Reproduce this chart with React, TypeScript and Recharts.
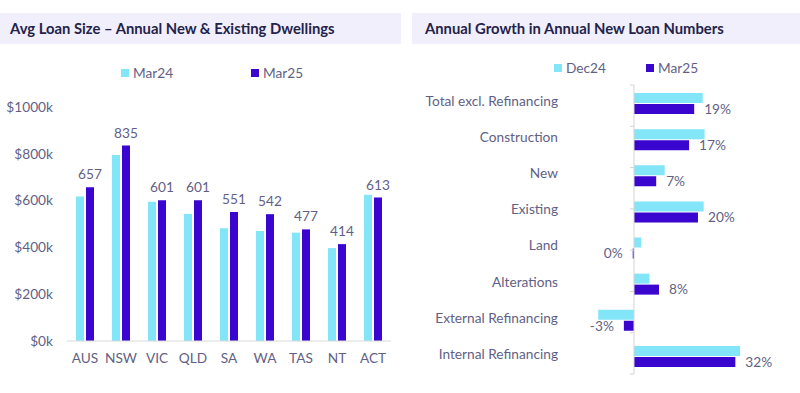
import {
  BarChart,
  Bar,
  XAxis,
  YAxis,
  LabelList,
  ReferenceLine,
} from 'recharts';

// left panel: average loan size ($k)
const states = ['AUS', 'NSW', 'VIC', 'QLD', 'SA', 'WA', 'TAS', 'NT', 'ACT'];
const mar24Size = [617, 795, 595, 543, 482, 470, 463, 397, 625];
const mar25Size = [657, 835, 601, 601, 551, 542, 477, 414, 613];
const sizeTicks = [0, 200, 400, 600, 800, 1000];

// right panel: annual growth in new loan numbers (%)
const loanTypes = [
  'Total excl. Refinancing',
  'Construction',
  'New',
  'Existing',
  'Land',
  'Alterations',
  'External Refinancing',
  'Internal Refinancing',
];
const dec24Growth = [21.7, 22.3, 9.7, 22, 2.3, 4.9, -11.3, 33.5];
const mar25Growth = [19, 17.4, 7, 20.2, -0.4, 7.9, -3.2, 32];
const growthBoundaries = [0, 1, 2, 3, 4, 5, 6, 7, 8];

const sizeData = states.map((s, i) => ({ state: s, mar24: mar24Size[i], mar25: mar25Size[i] }));
const growthData = loanTypes.map((t, i) => ({ type: t, dec24: dec24Growth[i], mar25: mar25Growth[i] }));

const LIGHT = '#82e5f8';
const DARK = '#3a05cf';
const TEXT = '#625f85';
const TITLE = '#24234a';
const BAND = '#f1effb';
const FONT = 'Lato, "Open Sans", sans-serif';
const FS = 13.7;

function Header({ left, width, title, textLeft }: { left: number; width: number; title: string; textLeft: number }) {
  return (
    <div
      style={{
        position: 'absolute',
        left,
        top: 13,
        width,
        height: 31,
        background: BAND,
      }}
    >
      <div
        style={{
          position: 'absolute',
          left: textLeft,
          top: 6,
          fontSize: 14.8,
          fontWeight: 700,
          color: TITLE,
          whiteSpace: 'nowrap',
        }}
      >
        {title}
      </div>
    </div>
  );
}

function LegendItem({ x, y, color, label }: { x: number; y: number; color: string; label: string }) {
  return (
    <div style={{ position: 'absolute', left: x, top: y, display: 'flex', alignItems: 'center', color: TEXT, fontSize: FS }}>
      <span style={{ width: 8, height: 8, background: color, marginRight: 4, display: 'inline-block' }} />
      {label}
    </div>
  );
}

const pct = (v: number) => `${Math.round(v)}%`;

export default function App() {
  return (
    <div
      style={{
        position: 'absolute',
        left: 0,
        top: 0,
        width: 800,
        height: 393,
        background: '#fff',
        fontFamily: FONT,
        overflow: 'hidden',
      }}
    >
      <Header left={0} width={401} title="Avg Loan Size – Annual New & Existing Dwellings" textLeft={10} />
      <Header left={412} width={388} title="Annual Growth in Annual New Loan Numbers" textLeft={13} />

      <LegendItem x={121} y={64} color={LIGHT} label="Mar24" />
      <LegendItem x={251} y={64} color={DARK} label="Mar25" />
      <LegendItem x={554} y={59} color={LIGHT} label="Dec24" />
      <LegendItem x={646} y={59} color={DARK} label="Mar25" />

      <div style={{ position: 'absolute', left: 0, top: 0 }}>
        <BarChart
          width={400}
          height={393}
          data={sizeData}
          margin={{ top: 107, right: 9, bottom: 22, left: 0 }}
          barSize={8}
          barGap={2}
        >
          <XAxis
            dataKey="state"
            axisLine={{ stroke: '#d9d9d9' }}
            tickLine={false}
            tickSize={0}
            tickMargin={12}
            tick={{ fill: TEXT, fontSize: FS }}
            interval={0}
          />
          <YAxis
            width={67}
            domain={[0, 1000]}
            ticks={sizeTicks}
            axisLine={false}
            tickLine={false}
            tickSize={0}
            tickMargin={14}
            tick={{ fill: TEXT, fontSize: FS }}
            tickFormatter={(v) => `$${v}k`}
          />
          <Bar dataKey="mar24" name="Mar24" fill={LIGHT} isAnimationActive={false} />
          <Bar dataKey="mar25" name="Mar25" fill={DARK} isAnimationActive={false}>
            <LabelList dataKey="mar25" position="top" offset={8} fill={TEXT} fontSize={FS} />
          </Bar>
        </BarChart>
      </div>

      <div style={{ position: 'absolute', left: 400, top: 0 }}>
        <BarChart
          width={400}
          height={393}
          data={growthData}
          layout="vertical"
          margin={{ top: 85, right: 52, bottom: 19, left: 0 }}
          barSize={10}
          barGap={1}
        >
          <XAxis type="number" domain={[-12, 36]} hide />
          <YAxis
            yAxisId="cat"
            type="category"
            dataKey="type"
            width={196}
            axisLine={false}
            tickLine={false}
            tickSize={0}
            tickMargin={38}
            tick={{ fill: TEXT, fontSize: FS, dy: -2 }}
            interval={0}
          />
          <YAxis yAxisId="num" type="number" domain={[0, 8]} reversed hide />
          <Bar yAxisId="cat" dataKey="dec24" name="Dec24" fill={LIGHT} isAnimationActive={false} />
          <Bar yAxisId="cat" dataKey="mar25" name="Mar25" fill={DARK} isAnimationActive={false}>
            <LabelList dataKey="mar25" position="right" offset={10} fill={TEXT} fontSize={FS} formatter={pct} />
          </Bar>
          <ReferenceLine yAxisId="num" x={0} stroke="#d4d4d4" />
          {growthBoundaries.map((b) => (
            <ReferenceLine
              key={b}
              yAxisId="num"
              segment={[
                { x: -1.3, y: b },
                { x: 0, y: b },
              ]}
              stroke="#d4d4d4"
            />
          ))}
        </BarChart>
      </div>
    </div>
  );
}
